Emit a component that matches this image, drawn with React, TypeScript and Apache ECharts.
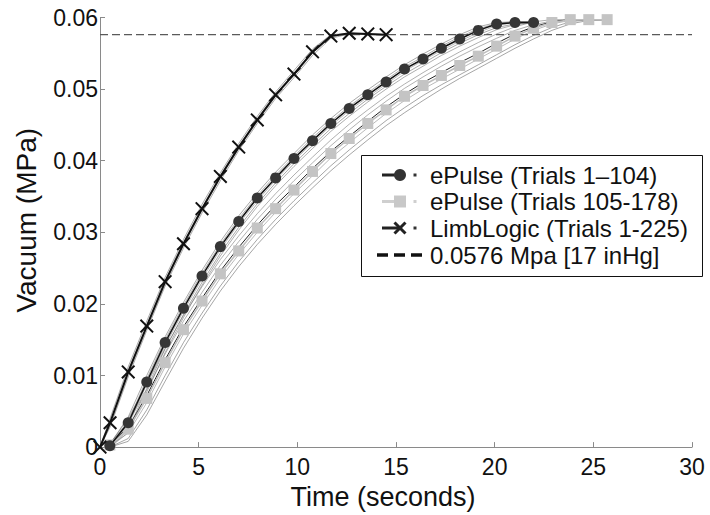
import React, { useEffect, useRef } from "react";
import * as echarts from "echarts";

// time grid of the markers (seconds)
const markTimes = [0.5, 1.43, 2.37, 3.3, 4.23, 5.17, 6.1, 7.03, 7.97, 8.9, 9.83, 10.77, 11.7, 12.63, 13.57, 14.5, 15.43, 16.37, 17.3, 18.23, 19.17, 20.1, 21.03, 21.97, 22.9, 23.83, 24.77, 25.7];
const limbTimes = [0, 0.51, 1.43, 2.37, 3.3, 4.23, 5.17, 6.1, 7.03, 7.97, 8.9, 9.83, 10.77, 11.7, 12.63, 13.57, 14.5];

// mean curves (MPa)
const ePulse1Mean = [0.0002, 0.0034, 0.0091, 0.0146, 0.0194, 0.0239, 0.028, 0.0315, 0.0348, 0.0376, 0.0403, 0.0428, 0.0452, 0.0473, 0.0492, 0.051, 0.0528, 0.0542, 0.0557, 0.057, 0.0582, 0.0591, 0.0593, 0.0593];
const ePulse2Mean = [0.0003, 0.0025, 0.0068, 0.0118, 0.0164, 0.0204, 0.0242, 0.0274, 0.0306, 0.0333, 0.0359, 0.0385, 0.041, 0.0431, 0.0452, 0.0471, 0.049, 0.0505, 0.0519, 0.0533, 0.0546, 0.056, 0.0574, 0.0585, 0.0593, 0.0597, 0.0597, 0.0597];
const limbMean = [0, 0.0034, 0.0105, 0.0169, 0.0231, 0.0284, 0.0333, 0.0378, 0.0419, 0.0457, 0.0492, 0.0521, 0.0552, 0.0574, 0.0578, 0.0577, 0.0576];

// individual trial traces (thin lines)
const ePulse1TrialA = [0.0004, 0.0042, 0.01, 0.0154, 0.0202, 0.0247, 0.0287, 0.0323, 0.0355, 0.0384, 0.041, 0.0436, 0.0459, 0.048, 0.0499, 0.0517, 0.0534, 0.0549, 0.0563, 0.0576, 0.0587, 0.0593, 0.0594, 0.0594];
const ePulse1TrialB = [0.0, 0.0024, 0.0082, 0.0137, 0.0185, 0.023, 0.0271, 0.0307, 0.034, 0.0369, 0.0396, 0.0421, 0.0445, 0.0466, 0.0486, 0.0504, 0.0521, 0.0536, 0.0551, 0.0564, 0.0576, 0.0586, 0.0591, 0.0593];
const ePulse1TrialC = [0.0002, 0.003, 0.0088, 0.0142, 0.019, 0.0235, 0.0276, 0.0312, 0.0344, 0.0373, 0.04, 0.0425, 0.0449, 0.047, 0.0489, 0.0507, 0.0525, 0.054, 0.0554, 0.0567, 0.0579, 0.0589, 0.0593, 0.0594];
const ePulse1TrialD = [0.0001, 0.0036, 0.0095, 0.015, 0.0198, 0.0243, 0.0283, 0.0319, 0.0351, 0.038, 0.0406, 0.0432, 0.0455, 0.0476, 0.0495, 0.0513, 0.0531, 0.0545, 0.056, 0.0573, 0.0584, 0.0592, 0.0594, 0.0594];
const ePulse1TrialE = [0.0, 0.002, 0.0077, 0.0132, 0.0181, 0.0226, 0.0267, 0.0303, 0.0336, 0.0365, 0.0392, 0.0417, 0.0441, 0.0462, 0.0482, 0.05, 0.0517, 0.0532, 0.0547, 0.056, 0.0572, 0.0583, 0.059, 0.0593];
const ePulse2TrialA = [0.0005, 0.0035, 0.008, 0.013, 0.0176, 0.0216, 0.0254, 0.0287, 0.0318, 0.0346, 0.0372, 0.0397, 0.0421, 0.0443, 0.0464, 0.0483, 0.0501, 0.0517, 0.0532, 0.0546, 0.0559, 0.0571, 0.0582, 0.059, 0.0595, 0.0597, 0.0597, 0.0597];
const ePulse2TrialB = [0.0, 0.0012, 0.0052, 0.01, 0.0146, 0.0187, 0.0225, 0.0259, 0.029, 0.0318, 0.0344, 0.0369, 0.0393, 0.0415, 0.0436, 0.0456, 0.0474, 0.0491, 0.0506, 0.052, 0.0534, 0.0548, 0.0562, 0.0575, 0.0586, 0.0594, 0.0597, 0.0597];
const ePulse2TrialC = [0.0002, 0.002, 0.0062, 0.0112, 0.0158, 0.0198, 0.0236, 0.0269, 0.03, 0.0328, 0.0354, 0.0379, 0.0404, 0.0425, 0.0446, 0.0466, 0.0484, 0.05, 0.0514, 0.0528, 0.0542, 0.0556, 0.057, 0.0582, 0.0591, 0.0596, 0.0597, 0.0597];
const ePulse2TrialD = [0.0003, 0.0028, 0.0072, 0.0122, 0.0168, 0.0208, 0.0246, 0.0279, 0.031, 0.0338, 0.0363, 0.0389, 0.0413, 0.0434, 0.0455, 0.0475, 0.0493, 0.0509, 0.0523, 0.0537, 0.055, 0.0564, 0.0577, 0.0587, 0.0594, 0.0597, 0.0597, 0.0597];
const ePulse2TrialE = [0.0, 0.0008, 0.0045, 0.0092, 0.0138, 0.018, 0.0218, 0.0252, 0.0283, 0.0311, 0.0337, 0.0362, 0.0386, 0.0408, 0.0429, 0.0449, 0.0467, 0.0484, 0.05, 0.0515, 0.0529, 0.0543, 0.0557, 0.057, 0.0582, 0.0591, 0.0596, 0.0597];
const ePulse2TrialF = [0.0004, 0.004, 0.0088, 0.0138, 0.0184, 0.0224, 0.0262, 0.0295, 0.0326, 0.0354, 0.038, 0.0405, 0.0429, 0.0451, 0.0471, 0.049, 0.0507, 0.0523, 0.0538, 0.0552, 0.0565, 0.0577, 0.0587, 0.0594, 0.0597, 0.0597, 0.0597, 0.0597];
const limbTrialA = [0, 0.004, 0.0112, 0.0176, 0.0237, 0.029, 0.0339, 0.0383, 0.0424, 0.0462, 0.0496, 0.0526, 0.0556, 0.0576, 0.0578, 0.0577, 0.0576];
const limbTrialB = [0, 0.0028, 0.0098, 0.0163, 0.0225, 0.0278, 0.0327, 0.0372, 0.0414, 0.0452, 0.0487, 0.0516, 0.0547, 0.0571, 0.0577, 0.0576, 0.0576];
const limbTrialC = [0, 0.0031, 0.0102, 0.0167, 0.0228, 0.0282, 0.0331, 0.0376, 0.0417, 0.0455, 0.049, 0.0519, 0.055, 0.0573, 0.0578, 0.0577, 0.0576];

const thresholdValue = 0.0576;
const thresholdRange = [0, 30];

const legendLabels = ["ePulse (Trials 1\u2013104)", "ePulse (Trials 105-178)", "LimbLogic (Trials 1-225)", "0.0576 Mpa [17 inHg]"];

const FONT = "'Liberation Sans', Arial, Helvetica, sans-serif";
const X_PATH = "path://M0,2 L2,0 L10,8 L18,0 L20,2 L12,10 L20,18 L18,20 L10,12 L2,20 L0,18 L8,10 Z";

const zip = (xs: number[], ys: number[]) => ys.map((y, i) => [xs[i], y]);

function thin(data: number[][], color: string, width = 0.6) {
  return {
    type: "line",
    data,
    showSymbol: false,
    symbol: "none",
    silent: true,
    smooth: false,
    lineStyle: { color, width },
    z: 2,
  };
}

export default function App() {
  const ref = useRef<HTMLDivElement>(null);
  useEffect(() => {
    if (!ref.current) return;
    const chart = echarts.init(ref.current, undefined, { renderer: "svg" });
    const rowY = [175, 201.5, 228, 255];
    const legendGraphics: any[] = [
      { type: "rect", shape: { x: 361.5, y: 155.5, width: 341, height: 121 }, style: { fill: "#fff", stroke: "#111", lineWidth: 1 } },
      // row 1
      { type: "line", shape: { x1: 382, y1: rowY[0], x2: 398, y2: rowY[0] }, style: { stroke: "#222", lineWidth: 3 } },
      { type: "circle", shape: { cx: 400, cy: rowY[0], r: 6 }, style: { fill: "#333" } },
      { type: "rect", shape: { x: 413.5, y: rowY[0] - 1.5, width: 3, height: 3 }, style: { fill: "#333" } },
      // row 2
      { type: "line", shape: { x1: 382, y1: rowY[1], x2: 396, y2: rowY[1] }, style: { stroke: "#cfcfcf", lineWidth: 3 } },
      { type: "rect", shape: { x: 394, y: rowY[1] - 6, width: 12, height: 12 }, style: { fill: "#c8c8c8" } },
      { type: "rect", shape: { x: 413.5, y: rowY[1] - 1.5, width: 3, height: 3 }, style: { fill: "#cfcfcf" } },
      // row 3
      { type: "line", shape: { x1: 382, y1: rowY[2], x2: 398, y2: rowY[2] }, style: { stroke: "#222", lineWidth: 3 } },
      { type: "line", shape: { x1: 394.5, y1: rowY[2] - 5.5, x2: 405.5, y2: rowY[2] + 5.5 }, style: { stroke: "#222", lineWidth: 3 } },
      { type: "line", shape: { x1: 394.5, y1: rowY[2] + 5.5, x2: 405.5, y2: rowY[2] - 5.5 }, style: { stroke: "#222", lineWidth: 3 } },
      { type: "rect", shape: { x: 413.5, y: rowY[2] - 1.5, width: 3, height: 3 }, style: { fill: "#333" } },
      // row 4
      { type: "line", shape: { x1: 377, y1: rowY[3], x2: 422, y2: rowY[3] }, style: { stroke: "#111", lineWidth: 3.5, lineDash: [11, 6] } },
    ];
    legendLabels.forEach((t, i) => {
      legendGraphics.push({
        type: "text",
        x: 430,
        y: rowY[i],
        style: { text: t, fill: "#111", font: `24px ${FONT}`, textVerticalAlign: "middle", verticalAlign: "middle" },
      });
    });

    chart.setOption({
      animation: false,
      backgroundColor: "#fff",
      grid: { left: 100, right: 18, top: 17.5, bottom: 62.3, containLabel: false },
      xAxis: {
        type: "value",
        min: 0,
        max: 30,
        interval: 5,
        name: "Time (seconds)",
        nameLocation: "middle",
        nameGap: 26,
        nameTextStyle: { fontFamily: FONT, fontSize: 27, color: "#111", padding: [0, 26, 0, 0] },
        axisLine: { show: true, lineStyle: { color: "#8a8a8a", width: 1 } },
        axisTick: { show: true, inside: true, length: 5, lineStyle: { color: "#8a8a8a" } },
        axisLabel: { fontFamily: FONT, fontSize: 23, color: "#111", margin: 8 },
        splitLine: { show: false },
      },
      yAxis: {
        type: "value",
        min: 0,
        max: 0.06,
        interval: 0.01,
        name: "Vacuum (MPa)",
        nameLocation: "middle",
        nameGap: 60,
        nameTextStyle: { fontFamily: FONT, fontSize: 28, color: "#111", padding: [0, 0, 0, 24] },
        axisLine: { show: true, lineStyle: { color: "#8a8a8a", width: 1 } },
        axisTick: { show: true, inside: true, length: 5, lineStyle: { color: "#8a8a8a" } },
        axisLabel: {
          fontFamily: FONT,
          fontSize: 23,
          color: "#111",
          margin: 2,
          formatter: (v: number) => (v === 0 ? "0" : v.toFixed(2)),
        },
        splitLine: { show: false },
      },
      graphic: { elements: legendGraphics.map((g) => ({ ...g, z: 100 })) },
      series: [
        thin(zip(markTimes, ePulse2TrialA), "#7a7a7a"),
        thin(zip(markTimes, ePulse2TrialB), "#6a6a6a"),
        thin(zip(markTimes, ePulse2TrialC), "#8a8a8a"),
        thin(zip(markTimes, ePulse2TrialE), "#6a6a6a"),
        thin(zip(markTimes, ePulse2TrialF), "#7a7a7a"),
        thin(zip(markTimes, ePulse2TrialD), "#222", 1),
        {
          type: "line",
          name: legendLabels[1],
          data: zip(markTimes, ePulse2Mean),
          symbol: "rect",
          symbolSize: 11,
          showAllSymbol: true,
          itemStyle: { color: "#c4c4c4" },
          lineStyle: { color: "#bdbdbd", width: 1.5 },
          z: 3,
        },
        thin(zip(markTimes, ePulse1TrialA), "#6f6f6f"),
        thin(zip(markTimes, ePulse1TrialB), "#6f6f6f"),
        thin(zip(markTimes, ePulse1TrialC), "#888"),
        thin(zip(markTimes, ePulse1TrialD), "#777"),
        thin(zip(markTimes, ePulse1TrialE), "#777"),
        {
          type: "line",
          name: legendLabels[0],
          data: zip(markTimes, ePulse1Mean),
          symbol: "circle",
          symbolSize: 11,
          showAllSymbol: true,
          itemStyle: { color: "#363636" },
          lineStyle: { color: "#111", width: 1.5 },
          z: 4,
        },
        thin(zip(limbTimes, limbTrialA), "#6f6f6f"),
        thin(zip(limbTimes, limbTrialB), "#6f6f6f"),
        thin(zip(limbTimes, limbTrialC), "#888"),
        {
          type: "line",
          name: legendLabels[2],
          data: zip(limbTimes, limbMean),
          symbol: X_PATH,
          symbolSize: 14,
          showAllSymbol: true,
          itemStyle: { color: "#111" },
          lineStyle: { color: "#111", width: 2 },
          z: 5,
        },
        {
          type: "line",
          name: legendLabels[3],
          data: thresholdRange.map((x) => [x, thresholdValue]),
          symbol: "none",
          lineStyle: { color: "#5a5a5a", width: 1.3, type: [8, 4] },
          z: 1,
        },
      ],
    });
    return () => chart.dispose();
  }, []);
  return <div ref={ref} style={{ position: "fixed", left: 0, top: 0, width: 710, height: 515 }} />;
}
